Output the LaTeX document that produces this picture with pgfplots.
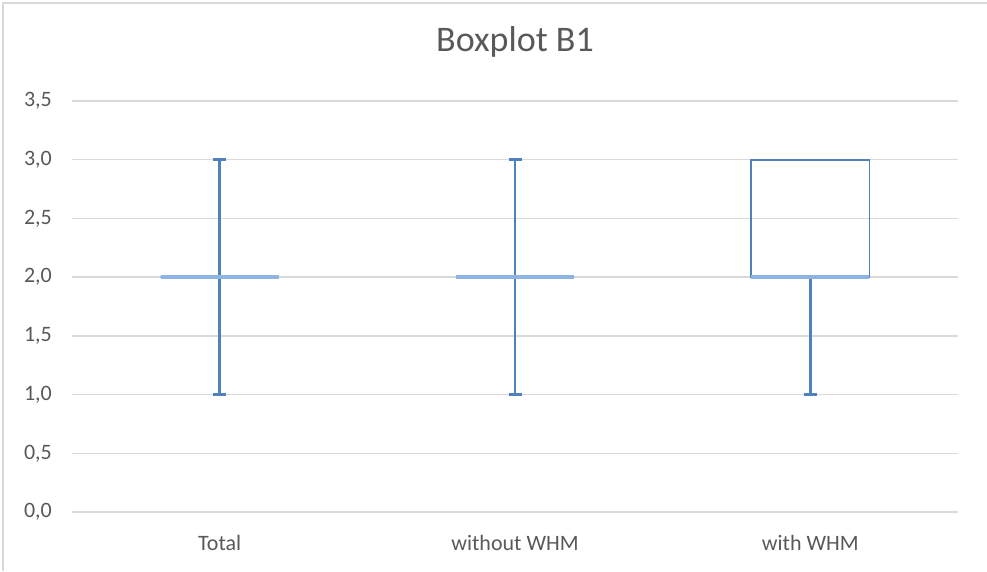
\documentclass[border=0pt]{standalone}
\usepackage{fontspec}
\setmainfont{Carlito}
\usepackage{pgfplots}
\pgfplotsset{compat=1.18}
\usepgfplotslibrary{statistics}
\definecolor{boxBlue}{HTML}{4F81BD}
\definecolor{medBlue}{HTML}{8DB4E2}
\definecolor{gridGray}{HTML}{D9D9D9}
\definecolor{txtGray}{HTML}{595959}

\begin{document}
\begin{tikzpicture}
\path[use as bounding box] (-72pt,-59pt) rectangle (915pt,512pt);
\draw[gridGray, line width=2pt] (-69pt,-59pt) -- (-69pt,509pt) -- (915pt,509pt);
\begin{axis}[
  at={(0,0)}, anchor=south west,
  scale only axis, width=886pt, height=411pt,
  xmin=0.5, xmax=3.5, ymin=0, ymax=3.5,
  xtick={1,2,3}, xticklabels={Total, without WHM, with WHM},
  ytick={0,0.5,1,1.5,2,2.5,3,3.5},
  ymajorgrids, grid style={gridGray, line width=1.3pt},
  axis line style={draw=none},
  major tick length=0pt,
  title={Boxplot B1},
  title style={at={(0.5,1)}, anchor=base, yshift=43pt,
               font=\fontsize{36}{40}\selectfont, text=txtGray},
  yticklabel style={font=\fontsize{22}{24}\selectfont, text=txtGray,
                    anchor=east, inner sep=0pt, xshift=-20pt},
  xticklabel style={font=\fontsize{22}{24}\selectfont, text=txtGray,
                    anchor=base, yshift=-38pt},
  /pgf/number format/.cd, fixed, fixed zerofill, precision=1, use comma,
  assume math mode=true,
  /pgfplots/.cd,
  boxplot/draw direction=y,
  boxplot/draw/box/.code={%
    \draw[boxBlue, line width=1.6pt]
      (boxplot box cs:\pgfplotsboxplotvalue{lower quartile},0)
      rectangle
      (boxplot box cs:\pgfplotsboxplotvalue{upper quartile},1);},
  boxplot/every median/.style={draw=medBlue, line width=4.5pt},
  boxplot/every whisker/.style={draw=boxBlue, line width=2.5pt},
  boxplot/box extend=0.4,
  boxplot/whisker extend=0.044,
]
% Total
\addplot[draw=boxBlue, boxplot prepared={draw position=1, median=2,
  lower quartile=2, upper quartile=2, lower whisker=1, upper whisker=3}]
  coordinates {};
% without WHM
\addplot[draw=boxBlue, boxplot prepared={draw position=2, median=2,
  lower quartile=2, upper quartile=2, lower whisker=1, upper whisker=3}]
  coordinates {};
% with WHM
\addplot[draw=boxBlue, boxplot prepared={draw position=3, median=2,
  lower quartile=2, upper quartile=3, lower whisker=1, upper whisker=3},
  boxplot/draw/upper whisker/.code={}]
  coordinates {};
\end{axis}
\end{tikzpicture}
\end{document}
